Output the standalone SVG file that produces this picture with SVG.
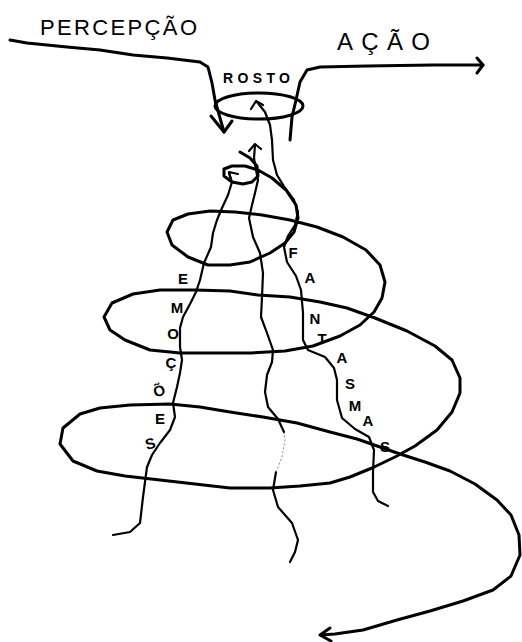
<svg xmlns="http://www.w3.org/2000/svg" width="522" height="642" viewBox="0 0 522 642">
<style>
.ln{fill:none;stroke:#000;stroke-linecap:round;stroke-linejoin:round}
.thick{stroke-width:3}
.mid{stroke-width:2.2}
.dot{fill:none;stroke:#888;stroke-width:1;stroke-dasharray:2 2}
.t{font-family:"Liberation Sans","DejaVu Sans",sans-serif;fill:#000}
.lt{font-size:15px;font-weight:bold;text-anchor:middle}
</style>
<rect width="522" height="642" fill="#fff"/>
<g id="connectors">
<g id="percepcao-line">
<polyline class="ln thick" points="10,40 27,43 67,47 100,50 133,55 167,58 200,62 208,67 212,83 215,100 220,118 224,132"/>
<polyline class="ln thick" points="211,116 224,132 232,121"/>
</g>
<g id="acao-line">
<polyline class="ln thick" points="290,140 292,117 296,100 300,82 307,70 320,67 367,66 433,65 483,65"/>
<polyline class="ln thick" points="477,58 483,65 477,73"/>
</g>
<g id="spiral">
<polyline class="ln thick" points="240,152 250,158 257,166 258,176 252,182 243,184 232,182 224,176 224,169 232,166 245,166 258,170 272,178 286,190 296,205 298,218 294,232 285,243 270,253 250,262 230,265 208,265 188,257 172,245 167,232 173,220 188,214 210,211 235,212 262,215 290,220 317,227 343,237 366,250 380,265 385,282 382,298 374,312 360,325 340,336 313,346 285,351 250,353 215,353 180,353 150,350 125,340 110,330 104,317 112,303 133,294 160,290 195,290 230,291 258,295 290,297 320,302 347,308 375,318 407,331 435,346 452,360 460,378 460,393 452,412 437,430 415,446 395,457 372,468 350,477 330,483 300,486 270,488 230,488 195,484 160,480 125,476 97,471 73,461 60,444 63,428 80,414 100,408 130,405 170,404 200,407 230,412 263,417 297,423 330,432 357,439 380,447 400,454 425,462 450,471 475,484 497,500 511,515 519,535 520,555 511,576 493,590 463,601 430,611 397,620 363,630 335,634 321,635"/>
<polyline class="ln thick" points="330,628 320,635 331,641"/>
</g>
<g id="fantasmas-line">
<polyline class="ln mid" points="388,506 378,501 373,492 373,472 374,450 369,437 355,429 342,418 337,400 337,380 334,368 325,357 308,350 303,340 303,313 301,290 296,276 287,262 284,247 288,236 295,225 298,212 294,200 285,188 277,175 273,160 272,140 270,125 265,112 257,102"/>
<polyline class="ln mid" points="251,109 256,101 263,105"/>
</g>
<g id="middle-line">
<polyline class="ln mid" points="290,562 295,552 298,540 292,523 278,507 273,490 276,472"/>
<polyline class="dot" points="276,472 282,457 285,440 284,432"/>
<polyline class="ln mid" points="284,432 278,419 268,407 265,392 267,375 272,362 273,350 267,333 261,317 262,297 263,273 260,253 253,237 249,218 252,205 255,193 258,180 256,170 254,158 255,145"/>
<polyline class="ln mid" points="249,151 255,144 261,149"/>
</g>
<g id="emocoes-line">
<polyline class="ln mid" points="113,535 130,532 140,523 143,497 147,467 152,455 160,443 170,430 175,417 173,403 177,387 180,373 182,360 180,347 180,328 183,317 190,304 196,292 200,280 204,263 211,247 213,233 217,220 222,208 228,195 232,182 229,173"/>
<polyline class="ln mid" points="238,174 229,172 231,180"/>
</g>
</g>
<g id="rosto">
<ellipse class="ln thick" cx="259" cy="106" rx="44" ry="13"/>
<text class="t" x="223" y="83" font-size="14" font-weight="bold" textLength="67" lengthAdjust="spacing">ROSTO</text>
</g>
<g id="percepcao">
<text class="t" x="40" y="35" font-size="22" textLength="157" lengthAdjust="spacing">PERCEPÇÃO</text>
</g>
<g id="acao">
<text class="t" x="337" y="50" font-size="24" textLength="93" lengthAdjust="spacing">AÇÃO</text>
</g>
<g id="emocoes">
<text class="t lt" x="183" y="284">E</text>
<text class="t lt" x="177" y="313">M</text>
<text class="t lt" x="173" y="339">O</text>
<text class="t lt" x="171" y="368">Ç</text>
<text class="t lt" x="159" y="396" transform="rotate(-20 159 390)">Õ</text>
<text class="t lt" x="160" y="424">E</text>
<text class="t lt" x="150" y="449" transform="rotate(-15 150 443)">S</text>
</g>
<g id="fantasmas">
<text class="t lt" x="293" y="258">F</text>
<text class="t lt" x="310" y="283">A</text>
<text class="t lt" x="315" y="324">N</text>
<text class="t lt" x="322" y="344">T</text>
<text class="t lt" x="342" y="363">A</text>
<text class="t lt" x="350" y="389">S</text>
<text class="t lt" x="355" y="411">M</text>
<text class="t lt" x="368" y="426">A</text>
<text class="t lt" x="385" y="452">S</text>
</g>
</svg>
